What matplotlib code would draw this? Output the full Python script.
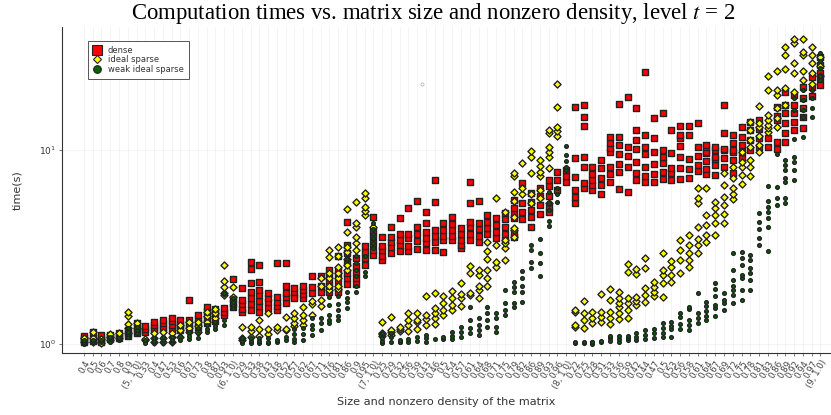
import matplotlib
matplotlib.use("Agg")
import matplotlib.pyplot as plt
from matplotlib.lines import Line2D
from matplotlib.ticker import NullLocator

labels = ['0.4','0.5','0.6','0.7','0.8','0.9','(5, 1.0)',
          '0.33','0.4','0.47','0.53','0.6','0.67','0.73','0.8','0.87','0.93','(6, 1.0)',
          '0.29','0.33','0.38','0.43','0.48','0.52','0.57','0.62','0.67','0.71','0.76','0.81','0.86','0.9','0.95','(7, 1.0)',
          '0.25','0.29','0.32','0.36','0.39','0.43','0.46','0.5','0.54','0.57','0.61','0.64','0.68','0.71','0.75','0.79','0.82','0.86','0.89','0.93','0.96','(8, 1.0)',
          '0.22','0.25','0.28','0.31','0.33','0.36','0.39','0.42','0.44','0.47','0.5','0.53','0.56','0.58','0.61','0.64','0.67','0.69','0.72','0.75','0.78','0.81','0.83','0.86','0.89','0.92','0.94','0.97','(9, 1.0)']

# one list of times per column
dense = [
    [1.02,1.05,1.07,1.10],[1.04,1.08,1.15],[1.03,1.05,1.08,1.11],[1.06,1.08,1.11],[1.07,1.10,1.14],[1.10,1.14,1.18],[1.14,1.17,1.22,1.28],
    [1.15,1.20,1.24],[1.18,1.21,1.25,1.30],[1.19,1.23,1.28,1.33],[1.19,1.26,1.31,1.36],[1.18,1.22,1.27,1.33],[1.21,1.27,1.33,1.69],[1.22,1.28,1.35,1.41],[1.28,1.34,1.41,1.48,1.55],[1.32,1.39,1.46,1.52],[1.41,1.47,1.53],[1.55,1.62,1.71,2.16],
    [1.46,1.52,1.60,1.69,1.94],[1.50,1.61,1.72,1.85,2.07,2.44,2.65],[1.46,1.57,1.67,1.78,1.90,2.09,2.55],[1.53,1.65,1.73,1.84],[1.50,1.57,1.65,1.75,2.62],[1.63,1.75,1.84,1.99,2.62],[1.76,1.85,1.94,1.72],[1.72,1.80,1.90,2.00],[1.84,1.96,2.24],[1.85,2.00,2.24],[1.85,1.99,2.13,2.27,2.41],[1.85,1.95,2.10,2.27,2.41,2.84],[2.04,2.18,2.32,2.60,2.94,3.24,4.25],[2.04,2.20,2.35,2.52,2.78],[2.55,2.78,2.98,3.20],[2.87,3.05,3.30,3.60,3.87,4.50],
    [2.70,2.85,3.05,3.20,3.55],[2.95,3.15,3.35,3.55,4.00],[3.00,3.25,3.45,3.70,4.46],[3.00,3.20,3.50,3.70,5.03],[3.10,3.40,3.70,4.00,5.47],[3.05,3.30,3.50,3.78,4.20,4.80],[3.05,3.35,3.60,3.87,5.40,7.00],[2.98,3.44,3.60,3.85,4.20],[3.44,3.60,3.85,4.15,4.50],[3.12,3.25,3.45,3.70,3.96],[3.44,3.70,4.00,4.25,5.33,6.85],[3.35,3.60,3.90,4.20,5.47],[3.70,3.95,4.25,4.60],[3.52,3.80,4.10,4.46],[3.45,3.70,4.00,4.40,4.74],[3.55,3.75,4.45,4.70,5.00,5.50],[4.40,4.80,5.33,6.77],[4.00,4.50,4.90,5.40,6.00],[4.65,5.20,5.80,6.40],[4.80,5.10,5.80,6.50,7.00],[6.20,7.00,7.70],[6.85,7.30,7.90],
    [5.33,5.70,6.23,7.25,9.10,16.7],[6.40,6.75,8.20,9.20,13.3,14.8,17.0],[6.20,6.60,7.00,7.50,8.20],[5.90,6.60,7.20,8.10,8.90],[6.80,7.50,8.20,9.80,10.2,10.9,11.7],[6.30,7.70,8.50,9.50,10.6,11.7,17.2],[6.10,8.20,9.30,10.3,18.8],[7.00,7.60,8.70,10.1,11.3,12.7,16.5],[6.80,7.30,8.20,9.50,10.3,12.0,25.2],[6.80,7.50,8.50,9.80,11.5,14.6],[7.10,7.70,8.60,9.20,10.0,15.5],[7.00,7.60,8.10,9.60,12.6],[7.10,8.10,9.20,10.5,11.5,12.0,13.3],[7.20,8.00,9.00,12.0,13.3],[7.80,8.40,9.30,10.4,13.8],[7.50,8.00,8.80,9.60,9.80,10.4,10.6],[7.40,8.40,9.00,9.20,10.0,10.3],[8.20,9.10,10.0,10.1,12.2,17.0],[7.60,8.90,9.80,10.8,10.0,12.0],[9.10,9.80,10.6,11.7,13.1],[10.0,11.2,12.6,13.9],[10.4,11.5,12.8,14.2],[10.4,11.5],[10.1,11.0,14.2,15.0,16.6],[11.0,12.2,13.8,15.5,17.0,20.0],[12.7,13.9,15.5,17.0,19.2],[13.0,14.8,16.5,18.5,21.2],[19.0,21.0,23.8],[21.6,23.5,25.0,27.5,30.0],
]
ideal = [
    [1.03,1.08],[1.02,1.07,1.15],[1.01,1.06],[1.05,1.09,1.13],[1.07,1.14],[1.14,1.21,1.27,1.39,1.46],[1.21,1.28],
    [1.05,1.06],[1.03,1.07,1.14],[1.03,1.07,1.15],[1.03,1.09,1.14],[1.09,1.18,1.25],[1.16,1.21,1.30],[1.15,1.24,1.30],[1.30,1.39,1.46],[1.36,1.44,1.51],[1.79,1.84,1.97,2.10,2.55],[1.75,1.97],
    [1.05,1.07,1.22],[1.09,1.17,1.22],[1.10,1.19,1.33],[1.12,1.19,1.44],[1.18,1.22],[1.18,1.20,1.38],[1.24,1.28,1.36,1.44],[1.25,1.33,1.41,1.55],[1.41,1.60,1.67],[1.57,1.69,2.00,2.19],[1.90,2.00,2.19,2.33,2.81,3.05],[1.92,2.00,2.19,2.33,2.50,2.84,3.16],[2.41,2.55,2.75,2.98,3.16,3.78,4.97],[3.05,3.30,3.55,4.00,4.20,5.40],[4.60,4.85,5.10,5.66,6.00],[4.00],
    [1.10,1.12,1.14,1.30],[1.11,1.16,1.18,1.38],[1.17,1.19,1.22],[1.17,1.25,1.33,1.44],[1.19,1.30,1.33,1.44],[1.25,1.35,1.41,1.77],[1.27,1.36,1.44,1.53,1.84],[1.41,1.50,1.63,1.77],[1.50,1.59,1.73,1.87],[1.57,1.73,1.81,2.07],[1.79,1.84,2.33,2.52],[1.73,1.90,2.00,2.27,2.41],[2.00,2.20,2.41,2.74,3.00,3.35],[2.50,2.65,3.25,5.66],[2.71,3.12,3.30,3.44,4.80],[3.55,3.87,3.96,4.50,5.47,6.10,7.30,7.60],[5.90,6.40,8.60],[5.30,5.90,7.60,9.20,9.90],[6.20,5.66,7.30,7.70,8.30,8.90],[5.33,8.10,9.20,9.80,10.3,12.2,12.7],[11.8,12.5,13.1,16.6,21.9],[],
    [1.22,1.25,1.46,1.49],[1.21,1.33,1.44,1.67],[1.28,1.36,1.46],[1.30,1.38,1.46,1.81],[1.27,1.36,1.46,1.69,1.92],[1.35,1.44,1.55,1.63,1.73,1.85],[1.36,1.50,1.63,1.73,2.35,2.58],[1.59,1.67,1.75,2.30,2.44],[1.65,1.79,1.94,2.47,2.78],[1.77,1.85,1.97,2.09],[1.75,2.07,2.27,2.41,2.95],[2.09,2.27,2.50,2.68],[2.33,2.71,3.05,3.44],[2.50,2.71,2.95,3.24,3.64],[2.95,3.24,3.48,4.00,5.33,5.66,6.40],[3.35,3.64,4.10,4.60,6.40],[3.64,4.20,4.60,5.00,5.40],[4.20,4.70,5.20,5.70,6.60,7.60],[5.60,5.90,6.40,7.20,8.20],[6.70,7.40,8.20,8.70,9.80],[7.30,8.20,8.90,10.3,11.3,12.7,14.0],[9.80,10.6,11.8,13.1,13.8,16.9],[12.4,12.9,13.5,14.3,15.1,20.4,24.0],[13.1,14.6,16.5,19.3,20.4,25.5],[17.0,20.9,26.0,30.8,34.0],[19.9,25.0,28.0,35.5,37.5],[22.9,25.5,31.0,32.0,37.5],[21.8,25.0,28.0,31.0,34.0],[24.0,27.0,30.0],
]
weak = [
    [1.00,1.02,1.05],[1.02,1.05],[1.02,1.05],[1.03,1.06,1.09],[1.05,1.08],[1.09,1.12,1.16,1.21],[1.14,1.18,1.22],
    [1.01,1.05],[1.01,1.04,1.07],[1.01,1.05,1.09],[1.02,1.05,1.09],[1.05,1.10],[1.06,1.10,1.16],[1.08,1.14,1.21],[1.15,1.20,1.25],[1.19,1.24,1.30],[1.25,1.33,1.84],[1.53,1.58,1.65,1.73],
    [1.01,1.04,1.07],[1.01,1.04,1.08],[1.01,1.04,1.07],[1.01,1.03,1.07],[1.03,1.05],[1.05,1.09],[1.02,1.06,1.12,1.20],[1.05,1.13,1.21],[1.11,1.19,1.26,1.36],[1.18,1.28,1.36],[1.28,1.33,1.41,1.59,1.75],[1.33,1.40,1.50,1.60,1.77],[1.53,1.65,1.73,1.85,2.75],[1.85,2.00,2.25,2.41,2.60,2.84],[2.25,2.35,2.84],[3.12,3.30,3.50,3.70,3.90,4.20],
    [1.01,1.04,1.08,1.14],[1.03,1.09,1.14],[1.02,1.03,1.05],[1.03,1.06],[1.04,1.09],[1.03,1.07,1.11],[1.06],[1.06,1.09],[1.06,1.10,1.15],[1.09,1.15,1.22],[1.14,1.21,1.33,1.55],[1.11,1.18,1.25,1.36],[1.22,1.33,1.44,1.55],[1.15,1.22,1.36,1.44],[1.41,1.50,1.63,1.90],[1.55,1.63,1.85,1.97,2.09],[1.65,1.85,2.00,2.19,2.38],[2.47,2.65,3.05,3.24],[2.24,2.62,2.95,3.48],[4.06,4.30,4.90,5.30,6.10],[5.40,5.90,6.40],[7.90,8.20,8.80,9.40,10.5],
    [1.01,1.03],[1.01,1.03],[1.00,1.02,1.03],[1.02,1.04],[1.04,1.07,1.10],[1.03,1.06,1.10],[1.05,1.08,1.10],[1.05,1.09,1.14],[1.06,1.11,1.18],[1.07,1.14,1.19],[1.09,1.14,1.21,1.28],[1.09,1.19,1.24,1.30],[1.19,1.27,1.38,1.44],[1.18,1.25,1.33,1.51,1.55],[1.28,1.36,1.44,1.84],[1.33,1.39,1.48,1.57,1.65],[1.39,1.53,1.59,1.77,1.92,2.07],[1.50,1.63,1.69,1.84],[1.63,1.79,1.90,2.00,2.14,2.41,2.95],[1.69,1.90,2.19,2.27,2.55,2.78,2.98],[1.90,2.14,2.33,2.47,2.71,2.87],[3.25,3.52,3.90,4.25,4.74],[3.00,4.00,4.46,4.80,5.10,5.47,6.53],[5.20,5.66,6.45,9.55],[5.33,5.66,6.80,7.20,7.90,8.40,8.90],[7.00,7.90,8.70,9.20,11.4,16.0,18.6],[11.7,14.8,16.0,18.0,20.4],[14.8,16.5,18.6,20.4],[23.0,24.0,26.5,28.7,31.6],
]
stray_x = 38.6
stray_y = 21.9

pos = list(range(len(labels)))

fig = plt.figure(figsize=(8.31, 4.15), dpi=100)
ax = fig.add_axes([62/831, 1-353/415, 769/831, 326/415])


def draw(series, marker, color, size):
    xs = []
    ys = []
    for i, col in zip(pos, series):
        xs += [i]*len(col)
        ys += col
    ax.scatter(xs, ys, marker=marker, s=size, c=color, edgecolors='#222222', linewidths=1.0, zorder=3)


draw(dense, 's', '#ff0000', 24)
draw(ideal, 'D', '#ffff00', 13)
draw(weak, 'o', '#006400', 7)
ax.scatter([stray_x], [stray_y], marker='o', s=5, facecolors='white', edgecolors='#b8b8c8', linewidths=0.6, zorder=3)

ax.set_yscale('log')
ax.set_xlim(-2.5, 85.2)
ax.set_ylim(0.899, 43)

ax.set_xticks(pos)
ax.set_xticklabels(labels, rotation=60, ha='right', rotation_mode='anchor', fontsize=6.2, color='#444444')
ax.set_yticks([1, 10])
ax.set_yticklabels(['$10^{0}$', '$10^{1}$'], fontsize=6.5, color='#333333')
ax.yaxis.set_minor_locator(NullLocator())
ax.tick_params(axis='x', length=2, width=0.5, pad=2, color='#444444')
ax.tick_params(axis='y', which='major', length=2.5, width=0.5, pad=2, color='#444444')
ax.grid(True, which='major', color='black', alpha=0.05, linewidth=0.6)
ax.set_axisbelow(True)

for s in ['top', 'right']:
    ax.spines[s].set_visible(False)
for s in ['left', 'bottom']:
    ax.spines[s].set_linewidth(0.8)
    ax.spines[s].set_color('#333333')

ax.set_xlabel('Size and nonzero density of the matrix', fontsize=8.15, color='#333333', labelpad=5)
ax.set_ylabel('time(s)', fontsize=8, color='#333333', labelpad=12)

plt.rcParams['mathtext.fontset'] = 'stix'
fig.text(0.5215, 0.968, 'Computation times vs. matrix size and nonzero density, level $t$ = 2',
         family='Liberation Serif', fontsize=16.4, ha='center', va='center')

handles = [
    Line2D([], [], marker='s', color='none', markerfacecolor='#ff0000', markeredgecolor='#222222', markersize=7, markeredgewidth=0.8),
    Line2D([], [], marker='D', color='none', markerfacecolor='#ffff00', markeredgecolor='#222222', markersize=4.5, markeredgewidth=0.8),
    Line2D([], [], marker='o', color='none', markerfacecolor='#006400', markeredgecolor='#222222', markersize=5.5, markeredgewidth=0.8),
]
leg = ax.legend(handles, ['dense', 'ideal sparse', 'weak ideal sparse'], loc='upper left',
                bbox_to_anchor=((88-62)/769, (353-41)/326), borderaxespad=0, fontsize=6,
                labelspacing=0.05, handletextpad=0.8, borderpad=0.6, handlelength=1.0, fancybox=False,
                framealpha=1, edgecolor='#555555')
leg.get_frame().set_linewidth(0.7)
for t in leg.get_texts():
    t.set_color('#333333')

fig.savefig('out.png', dpi=100)
